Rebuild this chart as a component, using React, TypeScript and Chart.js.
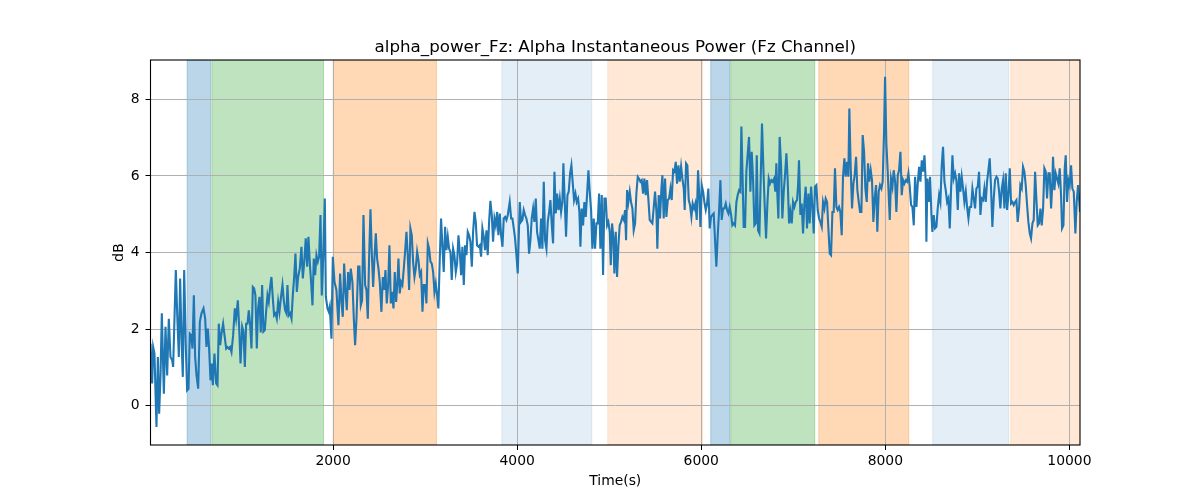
import React, { useEffect, useRef } from "react";
import { Chart, registerables } from "chart.js";

Chart.register(...registerables);

const TITLE = "alpha_power_Fz: Alpha Instantaneous Power (Fz Channel)";
const X_LABEL = "Time(s)";
const Y_LABEL = "dB";
const X_TICKS = [2000, 4000, 6000, 8000, 10000];
const Y_TICKS = [0, 2, 4, 6, 8];
const Y_MIN = -1.03;
const Y_MAX = 9.03;

const TIME_S = [
  16, 34, 45, 59, 81, 96, 110, 125, 139, 161,
  179, 197, 215, 233, 251, 262, 291, 309, 324, 338,
  353, 367, 382, 400, 414, 429, 443, 458, 472, 487,
  501, 516, 534, 552, 570, 592, 610, 624, 639, 653,
  668, 682, 693, 711, 729, 744, 758, 773, 787, 805,
  820, 838, 852, 867, 881, 896, 914, 932, 946, 965,
  979, 994, 1012, 1026, 1041, 1055, 1070, 1084, 1099, 1113,
  1128, 1142, 1156, 1171, 1185, 1200, 1214, 1229, 1243, 1258,
  1272, 1287, 1301, 1316, 1330, 1345, 1359, 1374, 1388, 1403,
  1417, 1432, 1450, 1464, 1479, 1493, 1504, 1519, 1533, 1548,
  1562, 1577, 1591, 1606, 1620, 1638, 1656, 1671, 1689, 1703,
  1718, 1732, 1747, 1761, 1776, 1790, 1805, 1819, 1834, 1848,
  1863, 1877, 1892, 1910, 1921, 1939, 1953, 1964, 1982, 1997,
  2015, 2036, 2058, 2076, 2091, 2105, 2120, 2134, 2149, 2163,
  2178, 2192, 2210, 2225, 2239, 2254, 2272, 2286, 2301, 2315,
  2330, 2348, 2362, 2377, 2391, 2406, 2420, 2435, 2449, 2464,
  2478, 2493, 2507, 2525, 2540, 2554, 2569, 2583, 2598, 2612,
  2627, 2641, 2656, 2670, 2685, 2699, 2710, 2724, 2739, 2753,
  2768, 2782, 2797, 2811, 2826, 2840, 2855, 2869, 2884, 2898,
  2913, 2927, 2942, 2956, 2971, 2985, 3000, 3014, 3029, 3043,
  3058, 3072, 3087, 3101, 3115, 3130, 3144, 3159, 3173, 3188,
  3202, 3217, 3231, 3246, 3260, 3275, 3289, 3304, 3318, 3333,
  3347, 3362, 3376, 3391, 3405, 3420, 3434, 3449, 3463, 3478,
  3492, 3507, 3521, 3536, 3550, 3564, 3579, 3593, 3608, 3622,
  3637, 3651, 3666, 3680, 3695, 3709, 3724, 3738, 3753, 3767,
  3782, 3796, 3811, 3825, 3840, 3854, 3869, 3883, 3898, 3919,
  3934, 3948, 3963, 3977, 3992, 4006, 4028, 4042, 4057, 4071,
  4086, 4100, 4115, 4129, 4144, 4158, 4173, 4187, 4202, 4216,
  4231, 4245, 4260, 4274, 4289, 4303, 4318, 4332, 4347, 4361,
  4376, 4390, 4405, 4419, 4434, 4448, 4463, 4477, 4491, 4502,
  4517, 4531, 4546, 4560, 4575, 4589, 4604, 4618, 4633, 4647,
  4662, 4676, 4687, 4701, 4716, 4730, 4745, 4759, 4774, 4788,
  4803, 4817, 4832, 4846, 4861, 4875, 4890, 4904, 4919, 4933,
  4948, 4962, 4977, 4991, 5006, 5017, 5031, 5045, 5056, 5071,
  5085, 5100, 5114, 5129, 5143, 5158, 5172, 5183, 5194, 5208,
  5223, 5237, 5252, 5266, 5281, 5295, 5310, 5324, 5339, 5353,
  5368, 5382, 5397, 5411, 5426, 5440, 5455, 5469, 5484, 5498,
  5513, 5523, 5538, 5552, 5567, 5578, 5592, 5607, 5621, 5636,
  5650, 5665, 5679, 5694, 5708, 5723, 5737, 5752, 5766, 5781,
  5795, 5810, 5820, 5835, 5849, 5864, 5878, 5893, 5907, 5922,
  5936, 5951, 5965, 5980, 5991, 6005, 6020, 6034, 6049, 6063,
  6077, 6092, 6106, 6121, 6135, 6150, 6164, 6179, 6193, 6208,
  6222, 6237, 6251, 6266, 6280, 6295, 6309, 6324, 6338, 6353,
  6367, 6382, 6396, 6411, 6425, 6436, 6450, 6461, 6476, 6490,
  6505, 6519, 6534, 6548, 6563, 6577, 6592, 6603, 6617, 6632,
  6646, 6660, 6675, 6689, 6704, 6718, 6733, 6747, 6762, 6776,
  6791, 6805, 6816, 6827, 6838, 6852, 6867, 6881, 6896, 6910,
  6925, 6939, 6954, 6968, 6983, 6997, 7012, 7026, 7041, 7052,
  7062, 7077, 7091, 7106, 7120, 7135, 7149, 7164, 7178, 7193,
  7207, 7222, 7236, 7251, 7265, 7280, 7294, 7309, 7323, 7338,
  7352, 7367, 7381, 7396, 7410, 7425, 7439, 7453, 7468, 7482,
  7497, 7511, 7526, 7540, 7555, 7569, 7584, 7598, 7609, 7624,
  7638, 7653, 7667, 7682, 7696, 7711, 7725, 7740, 7754, 7769,
  7783, 7798, 7812, 7826, 7841, 7855, 7870, 7884, 7899, 7913,
  7928, 7942, 7957, 7971, 7986, 7997, 8011, 8026, 8048, 8062,
  8077, 8091, 8106, 8120, 8135, 8149, 8164, 8178, 8193, 8207,
  8222, 8236, 8251, 8265, 8280, 8294, 8309, 8323, 8338, 8352,
  8367, 8381, 8396, 8410, 8425, 8439, 8446, 8457, 8472, 8486,
  8501, 8511, 8526, 8540, 8555, 8569, 8584, 8598, 8613, 8627,
  8642, 8656, 8671, 8685, 8700, 8714, 8729, 8743, 8758, 8772,
  8787, 8801, 8816, 8830, 8845, 8859, 8874, 8888, 8903, 8917,
  8932, 8946, 8961, 8975, 8989, 9004, 9018, 9033, 9047, 9062,
  9076, 9091, 9105, 9120, 9134, 9149, 9163, 9178, 9192, 9207,
  9221, 9236, 9250, 9265, 9279, 9294, 9308, 9323, 9337, 9352,
  9366, 9381, 9395, 9410, 9424, 9438, 9453, 9467, 9482, 9496,
  9511, 9525, 9540, 9554, 9569, 9583, 9598, 9612, 9627, 9641,
  9656, 9670, 9685, 9699, 9714, 9728, 9743, 9757, 9772, 9786,
  9801, 9815, 9822, 9837, 9851, 9866, 9880, 9895, 9909, 9920,
  9935, 9949, 9960, 9974, 9989, 10003, 10018, 10032, 10047, 10065,
  10079, 10094, 10115,
];

const ALPHA_DB = [
  1.62, 0.58, 1.53, 1.36, -0.56, 1.27, -0.21, 0.79, 2.41, 0.31,
  2.06, 0.79, 2.27, 1.27, 1.19, 1.01, 3.54, 2.19, 1.27, 3.32,
  1.75, 0.75, 3.54, 1.49, 0.40, 0.44, 1.88, 1.84, 1.49, 2.88,
  1.27, 0.79, 0.44, 2.19, 2.41, 2.54, 2.27, 1.53, 2.01, 1.49,
  0.66, 1.10, 0.53, 1.36, 0.58, 0.53, 2.14, 1.58, 1.88, 2.14,
  1.84, 1.49, 1.53, 1.49, 1.53, 1.40, 1.84, 2.54, 2.27, 2.75,
  2.06, 1.10, 2.06, 1.93, 1.01, 2.14, 2.14, 2.49, 2.10, 1.49,
  3.10, 3.06, 2.88, 1.49, 2.54, 2.84, 1.91, 3.15, 1.93, 1.97,
  2.45, 2.88, 2.71, 3.10, 3.36, 2.80, 2.36, 2.41, 2.27, 2.71,
  2.45, 2.80, 3.15, 2.75, 2.49, 2.41, 3.15, 2.36, 2.41, 2.27,
  2.88, 3.36, 3.97, 2.97, 3.36, 3.58, 4.15, 3.32, 3.84, 4.37,
  3.63, 4.41, 3.71, 3.23, 2.62, 3.84, 3.41, 3.93, 3.76, 3.89,
  4.98, 2.88, 3.84, 5.41, 2.84, 2.54, 2.45, 2.58, 1.75, 3.89,
  3.23, 3.02, 2.10, 3.45, 2.71, 2.32, 3.71, 3.02, 2.49, 3.49,
  3.02, 3.58, 3.23, 2.27, 1.58, 2.27, 3.63, 3.63, 2.62, 2.75,
  4.98, 3.15, 3.02, 2.27, 3.84, 5.13, 4.02, 3.10, 3.84, 4.50,
  3.84, 3.58, 3.23, 2.45, 3.36, 3.02, 3.54, 2.67, 3.15, 4.19,
  2.67, 2.97, 2.54, 3.49, 2.71, 3.23, 3.84, 2.93, 3.23, 3.15,
  3.58, 4.02, 4.54, 3.93, 3.02, 4.63, 4.45, 3.76, 3.36, 3.58,
  4.02, 3.80, 3.41, 3.49, 2.45, 3.15, 3.15, 2.67, 4.24, 4.10,
  3.76, 3.71, 3.49, 2.97, 3.19, 2.88, 2.54, 3.84, 4.89, 4.15,
  3.49, 4.67, 4.06, 4.41, 4.10, 4.02, 3.28, 4.10, 3.93, 3.49,
  3.71, 4.45, 4.02, 3.41, 4.15, 3.15, 4.19, 3.93, 4.54, 4.45,
  4.28, 3.63, 4.54, 5.06, 4.80, 4.19, 4.15, 4.19, 3.89, 4.63,
  4.41, 4.06, 4.58, 3.93, 4.80, 5.35, 4.98, 4.28, 4.89, 4.71,
  5.06, 4.45, 5.02, 4.45, 4.15, 4.89, 4.93, 4.85, 4.98, 5.32,
  4.89, 4.89, 4.63, 4.37, 3.93, 3.45, 5.32, 4.80, 4.85, 5.11,
  4.98, 4.89, 4.71, 3.97, 4.32, 4.89, 5.15, 4.80, 5.41, 4.54,
  4.32, 4.10, 4.89, 4.10, 5.85, 4.32, 4.10, 4.80, 5.06, 5.37,
  4.71, 4.24, 6.11, 5.02, 5.54, 5.11, 5.41, 5.06, 5.32, 6.33,
  5.32, 4.41, 5.50, 5.59, 6.07, 6.28, 5.80, 5.37, 5.54, 5.32,
  5.41, 5.06, 4.15, 5.15, 4.71, 5.32, 4.93, 5.50, 6.15, 5.59,
  5.11, 4.10, 4.89, 4.10, 4.76, 4.76, 5.54, 4.10, 5.50, 3.41,
  5.41, 5.41, 4.71, 4.80, 4.54, 3.67, 4.76, 4.41, 3.45, 4.54,
  3.36, 4.19, 4.71, 4.80, 4.93, 4.85, 5.11, 4.32, 5.63, 5.32,
  5.59, 5.32, 5.15, 4.58, 4.76, 5.54, 5.98, 5.93, 5.85, 5.89,
  5.54, 5.93, 5.50, 5.89, 5.37, 4.85, 4.80, 4.76, 5.19, 5.59,
  5.06, 4.10, 5.50, 4.89, 5.67, 6.02, 4.89, 5.93, 4.93, 5.37,
  5.41, 5.67, 5.37, 6.15, 6.11, 6.37, 5.80, 6.28, 5.85, 6.24,
  5.93, 5.67, 5.11, 6.33, 6.28, 5.37, 5.24, 4.93, 5.28, 5.15,
  5.28, 4.85, 6.15, 5.41, 4.67, 5.76, 5.59, 5.32, 5.11, 5.28,
  5.67, 4.63, 4.93, 4.98, 5.02, 4.32, 3.63, 4.45, 5.06, 5.89,
  4.85, 5.15, 5.15, 5.28, 5.11, 5.02, 5.19, 4.98, 4.71, 4.76,
  4.71, 5.32, 5.50, 5.63, 5.59, 7.29, 5.85, 4.67, 4.67, 6.11,
  6.59, 7.02, 5.59, 6.63, 5.89, 4.71, 4.76, 6.54, 4.58, 4.50,
  5.93, 7.37, 6.20, 5.24, 4.37, 5.24, 5.93, 5.80, 5.89, 5.85,
  5.93, 5.59, 6.33, 5.50, 4.89, 7.02, 6.28, 4.89, 5.59, 6.02,
  6.59, 5.89, 4.76, 5.06, 4.76, 5.32, 5.19, 5.32, 5.37, 5.76,
  6.41, 4.98, 5.28, 4.50, 5.28, 5.72, 4.63, 5.54, 4.76, 5.72,
  5.24, 4.50, 5.72, 5.76, 5.11, 4.89, 4.80, 4.67, 5.32, 5.15,
  5.41, 5.32, 4.63, 3.97, 3.93, 5.06, 5.06, 6.20, 5.19, 5.11,
  5.19, 5.06, 4.45, 5.98, 6.46, 5.98, 6.37, 5.98, 7.76, 6.20,
  5.15, 5.80, 6.02, 6.50, 5.63, 5.32, 5.06, 5.06, 7.07, 6.63,
  5.67, 5.32, 6.33, 5.85, 6.15, 5.89, 4.80, 5.41, 5.76, 4.54,
  5.59, 5.76, 5.67, 5.85, 7.15, 8.59, 6.85, 6.11, 4.85, 5.93,
  5.72, 6.15, 5.85, 5.06, 6.02, 6.15, 6.63, 5.50, 5.89, 5.80,
  5.89, 5.85, 6.07, 5.72, 5.24, 5.19, 4.71, 5.98, 5.19, 5.80,
  6.24, 5.85, 6.41, 6.11, 6.54, 5.85, 4.28, 5.93, 5.32, 5.98,
  4.98, 4.54, 4.98, 4.63, 4.67, 5.15, 5.50, 5.32, 6.28, 6.76,
  5.85, 5.63, 5.32, 5.41, 4.63, 5.63, 6.54, 5.93, 6.07, 5.89,
  5.11, 6.07, 5.59, 5.98, 5.67, 5.32, 5.59, 5.19, 4.89, 5.19,
  5.19, 5.67, 5.41, 5.15, 5.67, 5.72, 6.11, 4.98, 5.41, 5.37,
  5.67, 5.32, 5.85, 6.15, 6.46, 5.67, 4.67, 5.41, 5.89, 5.98,
  5.93, 5.59, 5.15, 5.67, 5.89, 5.15, 6.07, 5.11, 5.50, 6.20,
  5.28, 5.32, 5.24, 5.32, 5.37, 4.80, 5.15, 5.76, 5.67, 6.24,
  6.11, 5.76, 5.24, 4.80, 4.50, 4.37, 4.76, 4.85, 6.11, 5.41,
  4.71, 4.76, 5.15, 4.71, 5.15, 6.20, 6.11, 5.41, 6.07, 6.07,
  5.15, 5.85, 6.50, 5.63, 6.07, 5.93, 5.80, 6.20, 5.50, 4.63,
  4.71, 6.20, 6.54, 5.32, 5.89, 5.76, 6.28, 5.67, 5.59, 4.50,
  5.32, 5.76, 5.06,
];

const SPAN_START = [414, 682, 2000, 3833, 4984, 6103, 6320, 7277, 8515, 9362];
const SPAN_END = [668, 1896, 3123, 4810, 6013, 6310, 7233, 8255, 9341, 10115];
const SPAN_COLORS = [
  "rgba(31,119,180,0.3)",
  "rgba(44,160,44,0.3)",
  "rgba(255,127,14,0.3)",
  "rgba(31,119,180,0.12)",
  "rgba(255,127,14,0.17)",
  "rgba(31,119,180,0.3)",
  "rgba(44,160,44,0.3)",
  "rgba(255,127,14,0.3)",
  "rgba(31,119,180,0.12)",
  "rgba(255,127,14,0.17)",
];

const FONT = "'DejaVu Sans', 'Liberation Sans', sans-serif";

const decorPlugin = {
  id: "decor",
  beforeDraw(chart: any) {
    const { ctx, chartArea, scales } = chart;
    const xs = scales.x;
    const h = chartArea.bottom - chartArea.top;
    ctx.save();
    ctx.beginPath();
    ctx.rect(chartArea.left, chartArea.top, chartArea.right - chartArea.left, h);
    ctx.clip();
    SPAN_START.forEach((s, i) => {
      const x0 = xs.getPixelForValue(s);
      const x1 = xs.getPixelForValue(SPAN_END[i]);
      ctx.fillStyle = SPAN_COLORS[i];
      ctx.fillRect(x0, chartArea.top, x1 - x0, h);
      ctx.strokeStyle = SPAN_COLORS[i];
      ctx.lineWidth = 1;
      ctx.strokeRect(x0, chartArea.top, x1 - x0, h);
    });
    ctx.restore();
  },
  afterDatasetsDraw(chart: any) {
    const { ctx, chartArea } = chart;
    ctx.save();
    ctx.strokeStyle = "#000";
    ctx.lineWidth = 1.1;
    ctx.strokeRect(
      chartArea.left,
      chartArea.top,
      chartArea.right - chartArea.left,
      chartArea.bottom - chartArea.top
    );
    ctx.restore();
  },
  afterDraw(chart: any) {
    const { ctx, chartArea } = chart;
    const cx = (chartArea.left + chartArea.right) / 2;
    const cy = (chartArea.top + chartArea.bottom) / 2;
    ctx.save();
    ctx.fillStyle = "#000";
    ctx.textAlign = "center";
    ctx.textBaseline = "alphabetic";
    ctx.font = `16.7px ${FONT}`;
    ctx.fillText(TITLE, cx, chartArea.top - 8.5);
    ctx.font = `13.9px ${FONT}`;
    ctx.textBaseline = "middle";
    ctx.fillText(X_LABEL, cx, 481);
    ctx.translate(119, cy);
    ctx.rotate(-Math.PI / 2);
    ctx.fillText(Y_LABEL, 0, 0);
    ctx.restore();
  },
};

export default function App() {
  const canvasRef = useRef<HTMLCanvasElement | null>(null);

  useEffect(() => {
    const canvas = canvasRef.current;
    if (!canvas) return;
    const points = TIME_S.map((t, i) => ({ x: t, y: ALPHA_DB[i] }));
    const tickFont = { family: FONT, size: 13.9 };
    const chart = new Chart(canvas, {
      type: "line",
      data: {
        datasets: [
          {
            data: points,
            borderColor: "#1f77b4",
            borderWidth: 2.1,
            pointRadius: 0,
            fill: false,
            tension: 0,
          },
        ],
      },
      options: {
        animation: false,
        responsive: false,
        devicePixelRatio: 1,
        parsing: false as any,
        layout: { padding: { left: 0, top: 60, right: 120, bottom: 0 } },
        plugins: {
          legend: { display: false },
          tooltip: { enabled: false },
          title: { display: false },
        },
        scales: {
          x: {
            type: "linear",
            min: TIME_S[0],
            max: TIME_S[TIME_S.length - 1],
            afterBuildTicks: (s: any) => {
              s.ticks = X_TICKS.map((v) => ({ value: v }));
            },
            afterFit: (s: any) => {
              s.height = 55;
            },
            grid: {
              color: "#b0b0b0",
              lineWidth: 1,
              tickColor: "#000",
              tickLength: 5,
              drawTicks: true,
            },
            border: { display: false },
            ticks: {
              color: "#000",
              font: tickFont,
              padding: 3,
              maxRotation: 0,
              autoSkip: false,
              callback: (v: any) => String(v),
            },
          },
          y: {
            type: "linear",
            min: Y_MIN,
            max: Y_MAX,
            afterBuildTicks: (s: any) => {
              s.ticks = Y_TICKS.map((v) => ({ value: v }));
            },
            afterFit: (s: any) => {
              s.width = 150.5;
            },
            grid: {
              color: "#b0b0b0",
              lineWidth: 1,
              tickColor: "#000",
              tickLength: 5,
              drawTicks: true,
            },
            border: { display: false },
            ticks: {
              color: "#000",
              font: tickFont,
              padding: 6,
              autoSkip: false,
              callback: (v: any) => String(v),
            },
          },
        },
      },
      plugins: [decorPlugin],
    });
    return () => chart.destroy();
  }, []);

  return (
    <div
      style={{
        position: "absolute",
        left: 0,
        top: 0,
        width: 1200,
        height: 500,
        background: "#fff",
      }}
    >
      <canvas ref={canvasRef} width={1200} height={500} style={{ display: "block" }} />
    </div>
  );
}
